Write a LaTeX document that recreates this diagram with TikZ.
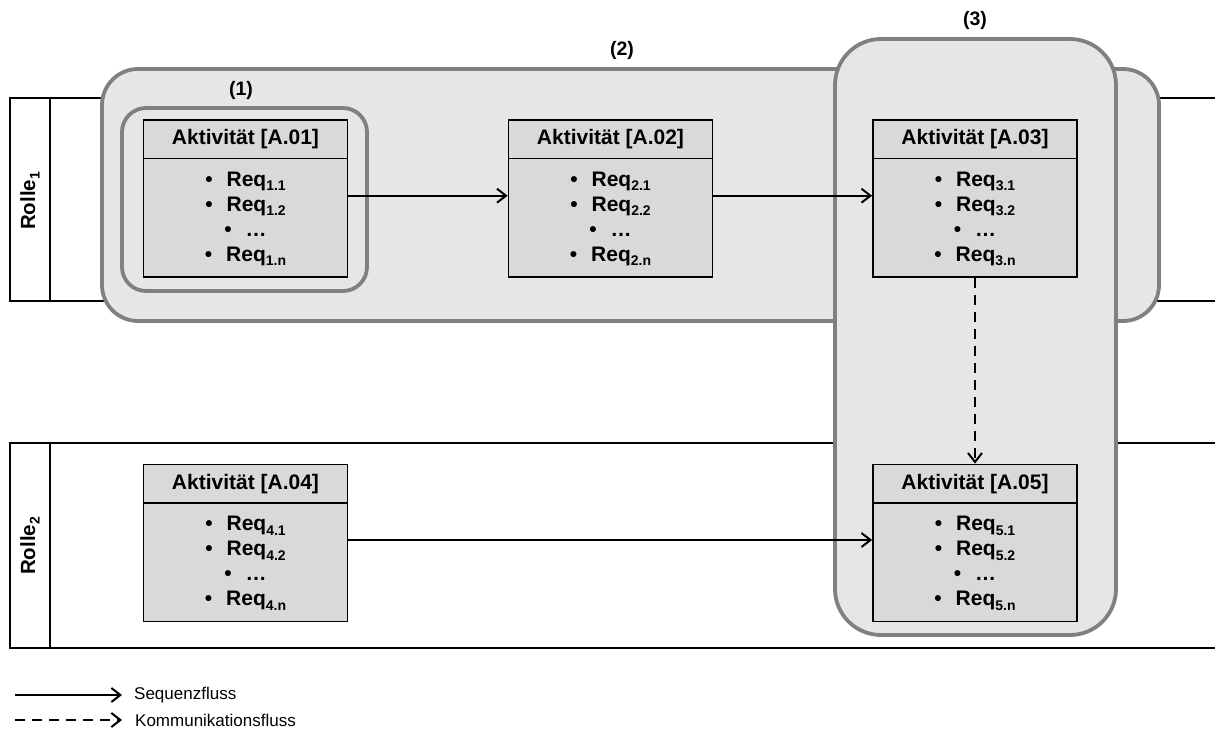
\documentclass[tikz,border=0pt]{standalone}
\usepackage{fontspec}
\setmainfont{Liberation Sans}
\usetikzlibrary{calc}
\usetikzlibrary{arrows.meta}
\usetikzlibrary{positioning}

\definecolor{grpfill}{HTML}{E6E6E6}
\definecolor{grpline}{HTML}{808080}
\definecolor{actfill}{HTML}{D9D9D9}

\newcommand{\tief}[1]{\raisebox{-4.5pt}{\fontsize{14}{14}\selectfont #1}}
\newcommand{\reqs}[1]{\textbullet\hspace{14pt}Req\tief{#1.1}\\
  \textbullet\hspace{14pt}Req\tief{#1.2}\\
  \textbullet\hspace{14pt}\dots\\
  \textbullet\hspace{14pt}Req\tief{#1.n}}

\begin{document}
\begin{tikzpicture}[x=1pt,y=-1pt,
  lane/.style={line width=1.7pt},
  gruppe/.style={draw=grpline,fill=grpfill,line width=3.8pt},
  act/.style={draw,fill=actfill,line width=1.8pt,minimum width=204pt,minimum height=157pt,inner sep=0pt},
  acthead/.style={draw,fill=actfill,line width=1.8pt,minimum width=204pt,minimum height=38.5pt,inner sep=0pt,
    font=\bfseries\fontsize{21}{24}\selectfont},
  acttext/.style={align=center,inner sep=0pt,font=\bfseries\fontsize{21}{25}\selectfont},
  rolle/.style={rotate=90,font=\bfseries\fontsize{20.5}{24}\selectfont},
  glabel/.style={font=\bfseries\fontsize{19.5}{22}\selectfont},
  legende/.style={anchor=west,inner sep=0pt,font=\fontsize{17}{20}\selectfont},
  seq/.style={line width=2pt,-{Straight Barb[length=9pt,width=14pt,line width=2pt]}},
  komm/.style={seq,line width=2.4pt,dash pattern=on 10pt off 7pt}]
\useasboundingbox (0,0) rectangle (1215,740);

% Rollen
\draw[lane] (1215,98) -| (10,301) -- (1215,301);
\draw[lane] (50,98) -- (50,301);
\node[rolle] (r1) at (30,201) {Rolle\tief{1}};
\draw[lane] (1215,443) -| (10,648) -- (1215,648);
\draw[lane] (50,443) -- (50,648);
\node[rolle] (r2) at (30,546) {Rolle\tief{2}};

% Gruppen
\draw[gruppe,rounded corners=36pt] (102,69) rectangle (1159,321);
\node[glabel] (g2) at (622,50) {(2)};
\draw[gruppe,rounded corners=46pt] (835,39) rectangle (1116,635);
\node[glabel] (g3) at (975,20) {(3)};
\draw[gruppe,rounded corners=24pt] (122,108) rectangle (367,291);
\node[glabel] (g1) at (241,90) {(1)};

% Aktivitaeten
\node[act] (a1) at (245.5,198.5) {};
\node[acthead,anchor=north] (a1h) at (a1.north) {Aktivität [A.01]};
\node[acttext] (a1t) at ($(a1h.south)!0.5!(a1.south)$) {\reqs{1}};

\node[act] (a2) at (610.5,198.5) {};
\node[acthead,anchor=north] (a2h) at (a2.north) {Aktivität [A.02]};
\node[acttext] (a2t) at ($(a2h.south)!0.5!(a2.south)$) {\reqs{2}};

\node[act] (a3) at (975,198.5) {};
\node[acthead,anchor=north] (a3h) at (a3.north) {Aktivität [A.03]};
\node[acttext] (a3t) at ($(a3h.south)!0.5!(a3.south)$) {\reqs{3}};

\node[act] (a4) at (245.5,543) {};
\node[acthead,anchor=north] (a4h) at (a4.north) {Aktivität [A.04]};
\node[acttext] (a4t) at ($(a4h.south)!0.5!(a4.south)$) {\reqs{4}};

\node[act] (a5) at (975,543) {};
\node[acthead,anchor=north] (a5h) at (a5.north) {Aktivität [A.05]};
\node[acttext] (a5t) at ($(a5h.south)!0.5!(a5.south)$) {\reqs{5}};

% Fluesse
\draw[seq] ([yshift=2.8pt]a1.east) -- ([yshift=2.8pt]a2.west);
\draw[seq] ([yshift=2.8pt]a2.east) -- ([yshift=2.8pt]a3.west);
\draw[seq] ([yshift=3pt]a4.east) -- ([yshift=3pt]a5.west);
\draw[komm] (a3.south) -- (a5.north);

% Legende
\coordinate (s0) at (15,695);
\node[legende] (s1) at (134,695) {Sequenzfluss};
\draw[seq] (s0) -- ([xshift=-12pt]s1.west);
\coordinate (k0) at (15,720);
\node[legende] (k1) at (135,720) {Kommunikationsfluss};
\draw[komm] (k0) -- ([xshift=-13pt]k1.west);
\end{tikzpicture}
\end{document}
